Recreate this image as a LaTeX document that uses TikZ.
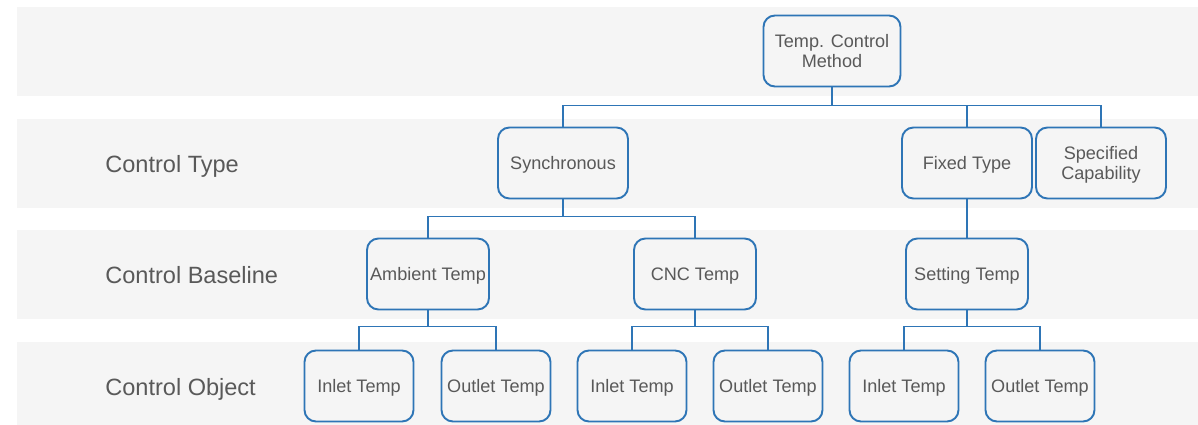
\documentclass[tikz,border=0pt]{standalone}
\usepackage{fontspec}
\setmainfont{Liberation Sans}
\usetikzlibrary{positioning}

\definecolor{bandgray}{HTML}{F5F5F5}
\definecolor{boxblue}{HTML}{2E75B6}
\definecolor{textgray}{HTML}{595959}

\begin{document}
\begin{tikzpicture}[
  x=0.02cm, y=-0.02cm,
  band/.style={fill=bandgray, draw=none},
  box/.style={draw=boxblue, line width=1.1pt, rounded corners=6.5pt, fill=bandgray,
    text=textgray, font=\fontsize{10.3}{11.5}\selectfont, align=center,
    minimum height=1.42cm, inner sep=1pt, text depth=0pt},
  rowlabel/.style={text=textgray, font=\fontsize{13.4}{15}\selectfont, anchor=west,
    inner sep=0pt, text depth=0pt},
  link/.style={draw=boxblue, line width=0.8pt}
]
\useasboundingbox (0,0) rectangle (1198,425);
% level bands
\fill[band] (17,7) rectangle (1198,96);
\fill[band] (17,119) rectangle (1198,208);
\fill[band] (17,230) rectangle (1198,319);
\fill[band] (17,342) rectangle (1198,425);
\node[rowlabel] (ltype) at (105,164) {Control Type};
\node[rowlabel] (lbase) at (105,275) {Control Baseline};
\node[rowlabel] (lobj) at (105,387) {Control Object};
% boxes
\node[box, minimum width=2.74cm] (root) at (832,51) {Temp. Control\\Method};
\node[box, minimum width=2.6cm] (sync) at (563,163) {Synchronous};
\node[box, minimum width=2.6cm] (fixed) at (967,163) {Fixed Type};
\node[box, minimum width=2.6cm] (spec) at (1101,163) {Specified\\Capability};
\node[box, minimum width=2.44cm] (amb) at (428,274) {Ambient Temp};
\node[box, minimum width=2.44cm] (cnc) at (695,274) {CNC Temp};
\node[box, minimum width=2.44cm] (set) at (967,274) {Setting Temp};
\node[box, minimum width=2.18cm] (inA) at (359,386) {Inlet Temp};
\node[box, minimum width=2.18cm] (outA) at (496,386) {Outlet Temp};
\node[box, minimum width=2.18cm] (inB) at (632,386) {Inlet Temp};
\node[box, minimum width=2.18cm] (outB) at (768,386) {Outlet Temp};
\node[box, minimum width=2.18cm] (inC) at (904,386) {Inlet Temp};
\node[box, minimum width=2.18cm] (outC) at (1040,386) {Outlet Temp};
% connectors
\foreach \kid in {sync,fixed,spec}
  \draw[link] (root.south) -- ++(0,18) -| (\kid.north);
\foreach \kid in {amb,cnc}
  \draw[link] (sync.south) -- ++(0,17) -| (\kid.north);
\draw[link] (fixed.south) -- (set.north);
\foreach \up/\kidA/\kidB in {amb/inA/outA, cnc/inB/outB, set/inC/outC} {
  \draw[link] (\up.south) -- ++(0,16) -| (\kidA.north);
  \draw[link] (\up.south) -- ++(0,16) -| (\kidB.north);
}
\end{tikzpicture}
\end{document}
